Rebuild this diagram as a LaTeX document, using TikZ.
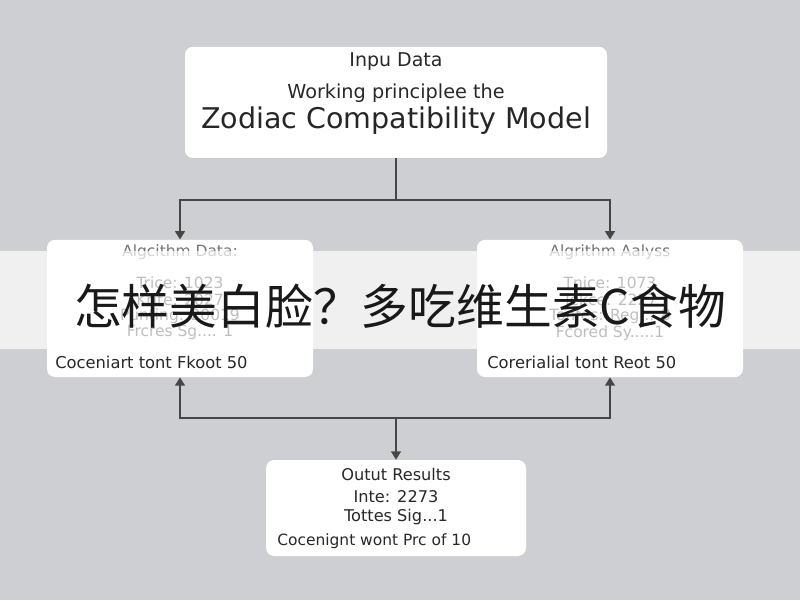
\documentclass[tikz,border=0pt]{standalone}
\usepackage{fontspec}
\setmainfont{DejaVu Sans}
\newfontfamily\cjk{Noto Sans CJK SC}
\usetikzlibrary{arrows.meta}
\definecolor{bggray}{RGB}{205,207,210}
\definecolor{linegray}{RGB}{70,70,70}
\definecolor{inkgray}{RGB}{40,40,40}

\begin{document}
\begin{tikzpicture}[
  panel/.style={fill=white,rounded corners=0.2cm,inner sep=0pt},
  txt/.style={inner sep=0pt,text=inkgray,font=\fontsize{11}{12}\selectfont},
  foot/.style={txt,anchor=west,font=\fontsize{11.6}{13}\selectfont},
  link/.style={draw=linegray,line width=1.2pt},
  tip/.style={-{Triangle[width=7pt,length=6pt]}}]
\useasboundingbox (0,0) rectangle (20,15);
\fill[bggray] (0,0) rectangle (20,15);
% boxes
\node[panel,minimum width=10.55cm,minimum height=2.78cm] (top) at (9.9,12.44){};
\node[panel,minimum width=6.65cm,minimum height=3.43cm] (left) at (4.5,7.29){};
\node[panel,minimum width=6.65cm,minimum height=3.43cm] (right) at (15.25,7.29){};
\node[panel,minimum width=6.5cm,minimum height=2.4cm] (out) at (9.9,2.3){};
% top box
\node[txt,font=\fontsize{13.5}{15}\selectfont] (inpu) at (9.9,13.45){Inpu Data};
\node[txt,font=\fontsize{13.7}{15}\selectfont] (work) at (9.9,12.68){Working principlee the};
\node[txt,font=\fontsize{20.3}{22}\selectfont,text=black!85] (zodiac) at (9.9,11.98){Zodiac Compatibility Model};
% left box
\node[txt,text=black!55] (ltitle) at (4.5,8.7){Algcithm Data:};
\node[txt] (l1) at (4.5,7.93){Trice: 1023};
\node[txt] (l2) at (4.5,7.5){Krite: 2027};
\node[txt] (l3) at (4.5,7.1){Punting: 20019};
\node[txt] (l4) at (4.5,6.68){Frcres Sg.... 1};
\node[foot] (lfoot) at (1.375,5.95){Coceniart tont Fkoot 50};
% right box
\node[txt,text=black!55] (rtitle) at (15.25,8.7){Algrithm Aalyss};
\node[txt] (r1) at (15.25,7.93){Tnice: 1073};
\node[txt] (r2) at (15.25,7.5){Tekce: 2227};
\node[txt] (r3) at (15.25,7.1){Tonfes: Reg... 8};
\node[txt] (r4) at (15.25,6.68){Fcored Sy.....1};
\node[foot] (rfoot) at (12.175,5.95){Corerialial tont Reot 50};
% output box
\node[txt,font=\fontsize{11.5}{13}\selectfont] (otitle) at (9.9,3.15){Outut Results};
\node[txt,font=\fontsize{11.5}{13}\selectfont] (o1) at (9.9,2.575){Inte: 2273};
\node[txt,font=\fontsize{11.5}{13}\selectfont] (o2) at (9.9,2.075){Tottes Sig...1};
\node[foot,font=\fontsize{11}{13}\selectfont] (ofoot) at (6.925,1.475){Cocenignt wont Prc of 10};
% connectors
\coordinate (split) at (9.9,10);
\coordinate (merge) at (9.9,4.55);
\draw[link] (top.south) -- (split);
\draw[link,tip] (split) -| (left.north);
\draw[link,tip] (split) -| (right.north);
\draw[link,tip] (merge) -| (left.south);
\draw[link,tip] (merge) -| (right.south);
\draw[link,tip] (merge) -- (out.north);
% banner
\fill[white,opacity=0.7] (0,6.275) rectangle (20,8.725);
\node[inner sep=0pt,text=black!90,font=\cjk\fontsize{34}{40}\selectfont] (banner) at (10,7.35){怎样美白脸？多吃维生素C食物};
\end{tikzpicture}
\end{document}
